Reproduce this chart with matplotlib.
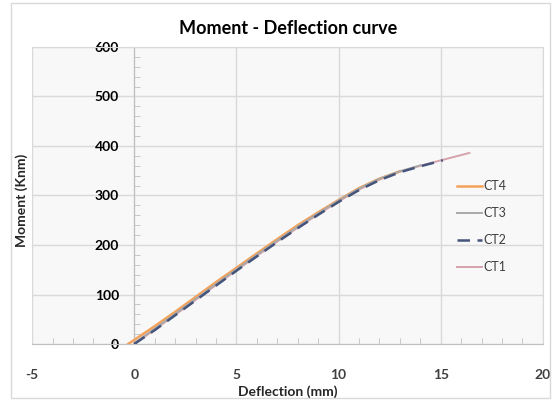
import matplotlib
matplotlib.use("Agg")
import matplotlib.pyplot as plt
from matplotlib.patches import Rectangle
from matplotlib.ticker import MultipleLocator

plt.rcParams['font.family'] = ['Lato', 'DejaVu Sans']
plt.rcParams['axes.unicode_minus'] = False

# Curve data (deflection in mm, moment in kNm)
ct1_x = [0, 1, 2, 3, 4, 5, 6, 7, 8, 9, 10, 11, 12, 13, 14, 15, 16.4]
ct1_y = [0, 29, 59, 89, 119, 149, 178, 207, 235, 262, 288, 312, 332, 348, 360, 371, 386]

ct2_x = [0, 1, 2, 3, 4, 5, 6, 7, 8, 9, 10, 11, 12, 13, 14, 15.1]
ct2_y = [0, 28, 58, 88, 118, 148, 177, 206, 234, 261, 287, 311, 331, 347, 359, 371]

ct3_x = [0, 1, 2, 3, 4, 5, 6, 7, 8, 9, 10, 11, 12, 13, 14]
ct3_y = [2, 31, 61, 91, 121, 151, 180, 209, 237, 264, 290, 314, 334, 349, 361]

ct4_x = [-0.3, 1, 2, 3, 4, 5, 6, 7, 8, 9, 10, 11, 12, 13]
ct4_y = [0, 36, 65, 95, 125, 154, 183, 212, 240, 266, 291, 315, 334, 349]

x_ticks = [-5, 0, 5, 10, 15, 20]
y_ticks = [0, 100, 200, 300, 400, 500, 600]

fig = plt.figure(figsize=(5.54, 4.0), dpi=100)
fig.patch.set_facecolor('white')
ax = fig.add_axes([0.058, 0.14, 0.922, 0.7425])
ax.set_facecolor('#f8f8f8')

# outer chart border
fig.patches.append(Rectangle((0.02, 0.005), 0.972, 0.988, transform=fig.transFigure,
                             fill=False, edgecolor='#d9d9d9', linewidth=1))

ax.plot(ct4_x, ct4_y, color='#f4a25a', lw=1.8, label='CT4', zorder=3)
ax.plot(ct3_x, ct3_y, color='#a9a9a9', lw=1.4, label='CT3', zorder=4)
ax.plot(ct2_x, ct2_y, color='#45547a', lw=1.8, ls=(0, (5, 3)), label='CT2', zorder=5)
ax.plot(ct1_x, ct1_y, color='#d6a2ab', lw=1.4, label='CT1', zorder=2)

ax.set_xlim(-5, 20)
ax.set_ylim(0, 600)
ax.set_xticks(x_ticks)
ax.set_yticks(y_ticks)
ax.xaxis.set_minor_locator(MultipleLocator(1))
ax.yaxis.set_minor_locator(MultipleLocator(20))
ax.grid(True, which='major', color='#d9d9d9', lw=1)
ax.set_axisbelow(True)

ax.spines['left'].set_position(('data', 0))
ax.spines['left'].set_color('#bfbfbf')
ax.spines['bottom'].set_color('#bfbfbf')
for s in ['top', 'right']:
    ax.spines[s].set_color('#d9d9d9')

ax.tick_params(axis='x', which='both', direction='in', colors='#bfbfbf',
               labelcolor='#404040', labelsize=10, pad=18)
ax.tick_params(axis='x', which='major', length=0)
ax.tick_params(axis='x', which='minor', length=4)
ax.tick_params(axis='y', which='both', direction='in', colors='#bfbfbf',
               labelcolor='black', labelsize=10, pad=11)
ax.tick_params(axis='y', which='major', length=0)
ax.tick_params(axis='y', which='minor', length=4)
for lbl in ax.get_xticklabels() + ax.get_yticklabels():
    lbl.set_fontweight('bold')

leg = ax.legend(loc='center left', bbox_to_anchor=(0.81, 0.395), frameon=False,
                fontsize=9, handlelength=2.0, handletextpad=0.1, labelspacing=1.2,
                labelcolor='#404040')

fig.text(0.52, 0.93, 'Moment - Deflection curve', ha='center', va='center',
         fontsize=13, fontweight='bold', color='black')
fig.text(0.52, 0.022, 'Deflection (mm)', ha='center', va='center',
         fontsize=10, fontweight='bold', color='#262626')
fig.text(0.04, 0.5, 'Moment (Knm)', ha='center', va='center', rotation=90,
         fontsize=10, fontweight='bold', color='#262626')

fig.savefig('out.png', dpi=100, facecolor='white')
